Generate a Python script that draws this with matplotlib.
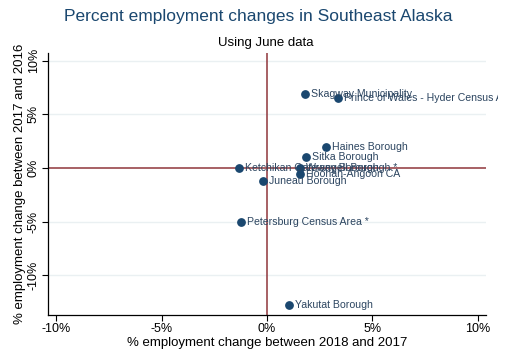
import matplotlib
matplotlib.use("Agg")
import matplotlib.pyplot as plt
from matplotlib.transforms import Bbox, TransformedBbox

plt.rcParams['font.family'] = ['Liberation Sans', 'DejaVu Sans']

# boroughs / census areas
areas = ["Skagway Municipality", "Prince of Wales - Hyder Census Area",
         "Haines Borough", "Sitka Borough", "Ketchikan Gateway Borough",
         "Wrangell Borough *", "Hoonah-Angoon CA", "Juneau Borough",
         "Petersburg Census Area *", "Yakutat Borough"]
chg_2018_2017 = [1.8, 3.35, 2.8, 1.85, -1.35, 1.55, 1.55, -0.2, -1.25, 1.05]
chg_2017_2016 = [6.9, 6.5, 1.95, 1.0, -0.05, -0.05, -0.6, -1.2, -5.0, -12.8]

ticks = [-10, -5, 0, 5, 10]
tick_labels = ["-10%", "-5%", "0%", "5%", "10%"]

navy = "#1a476f"
maroon = "#90353b"

fig = plt.figure(figsize=(5.11, 3.58), dpi=100)
ax = fig.add_axes([0.094, 0.12, 0.857, 0.732])

for t in [-10, -5, 5, 10]:
    ax.axhline(t, color="#eaf0f2", lw=1, zorder=0)
ax.axhline(0, color=maroon, lw=1.1, zorder=1)
ax.axvline(0, color=maroon, lw=1.1, zorder=1)

ax.scatter(chg_2018_2017, chg_2017_2016, s=28, color=navy, zorder=3)

# labels may run past the plot region but get cut near the figure edge
clip_box = TransformedBbox(Bbox([[0, 0], [498 / 511, 1]]), fig.transFigure)
for name, x, y in zip(areas, chg_2018_2017, chg_2017_2016):
    t = ax.text(x + 0.3, y, name, fontsize=7.6, color="#2c4560",
                va="center", ha="left", zorder=4, clip_on=True)
    t.set_clip_box(clip_box)

ax.set_xlim(-10.4, 10.4)
ax.set_ylim(-13.7, 10.7)
ax.set_xticks(ticks)
ax.set_xticklabels(tick_labels, fontsize=9)
ax.set_yticks(ticks)
ax.set_yticklabels(tick_labels, fontsize=9, rotation=90, va="center")
ax.tick_params(length=4, width=0.8, color="black", pad=2)

for side in ["top", "right"]:
    ax.spines[side].set_visible(False)
for side in ["left", "bottom"]:
    ax.spines[side].set_linewidth(0.9)

ax.set_xlabel("% employment change between 2018 and 2017", fontsize=9.5, labelpad=1)
ax.set_ylabel("% employment change between 2017 and 2016", fontsize=9.5, labelpad=1)

fig.text(0.505, 0.955, "Percent employment changes in Southeast Alaska",
         ha="center", va="center", fontsize=12.5, color=navy)
fig.text(0.52, 0.88, "Using June data", ha="center", va="center",
         fontsize=9.5, color="black")

fig.savefig("out.png", dpi=100)
